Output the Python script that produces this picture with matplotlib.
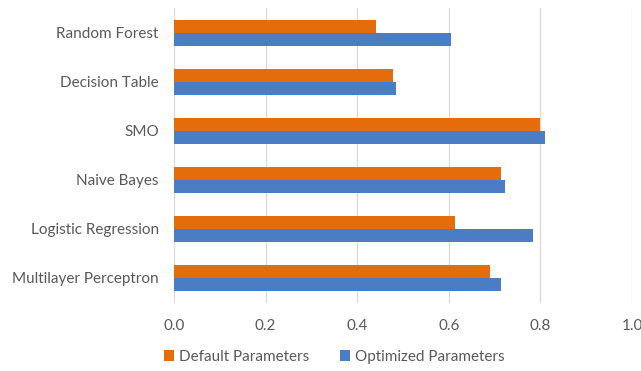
import matplotlib.pyplot as plt
import numpy as np

# classifiers, top to bottom
classifiers = ["Random Forest", "Decision Table", "SMO", "Naive Bayes",
               "Logistic Regression", "Multilayer Perceptron"]
default_scores = [0.44, 0.479, 0.80, 0.713, 0.613, 0.690]
optimized_scores = [0.605, 0.484, 0.810, 0.722, 0.784, 0.715]
x_ticks = [0.0, 0.2, 0.4, 0.6, 0.8, 1.0]

orange = "#E46C0A"
blue = "#4A7DC4"
text_gray = "#595959"

plt.rcParams['font.family'] = ['Lato', 'DejaVu Sans']

fig = plt.figure(figsize=(6.41, 3.71), dpi=100)
ax = fig.add_axes([174 / 641, 1 - 302.5 / 371, (632 - 174) / 641, (302.5 - 8.5) / 371])

y = np.arange(len(classifiers))
h = 0.265
ax.barh(y - h / 2, default_scores, height=h, color=orange, label="Default Parameters", zorder=3)
ax.barh(y + h / 2, optimized_scores, height=h, color=blue, label="Optimized Parameters", zorder=3)

ax.set_ylim(len(classifiers) - 0.5, -0.5)
ax.set_xlim(0, 1.0)
ax.set_yticks(y)
ax.set_yticklabels(classifiers, fontsize=11, color=text_gray)
ax.set_xticks(x_ticks)
ax.set_xticklabels([f"{t:.1f}" for t in x_ticks], fontsize=11, color=text_gray)
ax.tick_params(axis='y', length=0, pad=11)
ax.tick_params(axis='x', length=0, pad=12)

ax.grid(axis='x', color="#D9D9D9", linewidth=0.9, zorder=0)
for s in ax.spines.values():
    s.set_visible(False)

fig.legend(loc='center', bbox_to_anchor=(334 / 641, 1 - 357 / 371), ncol=2,
           frameon=False, fontsize=11, labelcolor=text_gray,
           handlelength=0.7, handleheight=0.7, handletextpad=0.3, columnspacing=2.0)

fig.savefig("out.png", dpi=100)
